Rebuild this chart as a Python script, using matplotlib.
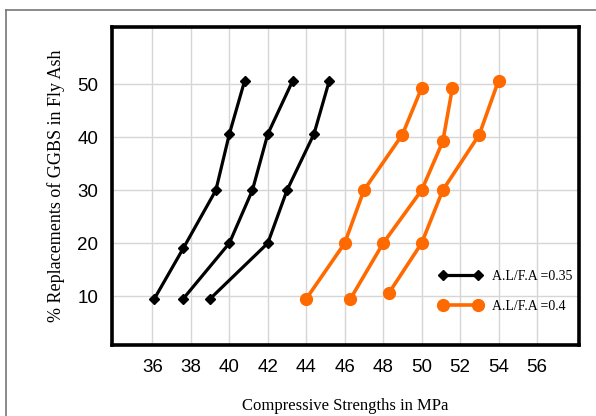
import matplotlib
matplotlib.use("Agg")
import matplotlib.pyplot as plt
from matplotlib.lines import Line2D

# replacement levels (%)
ggbs_black = [
    [9.5, 19.0, 30.0, 40.6, 50.7],
    [9.5, 20.0, 30.0, 40.6, 50.7],
    [9.5, 20.0, 30.0, 40.6, 50.7],
]
strength_black = [
    [36.1, 37.6, 39.3, 40.0, 40.8],
    [37.6, 40.0, 41.2, 42.0, 43.3],
    [39.0, 42.0, 43.0, 44.4, 45.2],
]
ggbs_orange = [
    [9.5, 20.0, 30.0, 40.5, 49.3],
    [9.5, 20.0, 30.0, 39.2, 49.3],
    [10.6, 20.0, 30.0, 40.5, 50.7],
]
strength_orange = [
    [44.0, 46.0, 47.0, 49.0, 50.0],
    [46.3, 48.0, 50.0, 51.1, 51.6],
    [48.3, 50.0, 51.1, 53.0, 54.0],
]
labels = ["A.L/F.A =0.35", "A.L/F.A =0.4"]
xticks = [36, 38, 40, 42, 44, 46, 48, 50, 52, 54, 56]
yticks = [10, 20, 30, 40, 50]

BLACK = "#000000"
ORANGE = "#ff6a00"

fig = plt.figure(figsize=(5.96, 4.16), dpi=100)
ax = fig.add_axes([0.188, 0.171, 0.784, 0.764])

# outer frame of the scanned figure (left and top edges)
fig.add_artist(Line2D([6 / 596, 6 / 596], [0, 1 - 10 / 416], color="#777777", lw=1.2))
fig.add_artist(Line2D([6 / 596, 1], [1 - 10 / 416, 1 - 10 / 416], color="#777777", lw=1.2))

for i, (x, y) in enumerate(zip(strength_black, ggbs_black)):
    ax.plot(x, y, color=BLACK, lw=2.3, marker="D", ms=5.5, zorder=3,
            label=labels[0] if i == 0 else None)
for i, (x, y) in enumerate(zip(strength_orange, ggbs_orange)):
    ax.plot(x, y, color=ORANGE, lw=2.6, marker="o", ms=8.5, zorder=3,
            label=labels[1] if i == 0 else None)

ax.set_xlim(33.9, 58.2)
ax.set_ylim(0.8, 60.8)
ax.set_xticks(xticks)
ax.set_yticks(yticks)
ax.grid(True, color="#d6d6d6", lw=1.0)
ax.set_axisbelow(True)
ax.tick_params(length=0, labelsize=13.5, pad=10)
for lab in ax.get_xticklabels() + ax.get_yticklabels():
    lab.set_fontfamily("Liberation Sans")
for s in ax.spines.values():
    s.set_linewidth(2.6)
    s.set_color("black")

ax.set_ylabel("% Replacements of GGBS in Fly Ash", family="Liberation Serif",
              fontsize=13, labelpad=9)
ax.set_xlabel("Compressive Strengths in MPa", family="Liberation Serif",
              fontsize=12, labelpad=16)

leg = ax.legend(loc="lower right", bbox_to_anchor=(1.012, 0.06), frameon=False,
                numpoints=2, handlelength=3.1, handletextpad=0.7, labelspacing=1.25,
                prop={"family": "Liberation Serif", "size": 10})

fig.savefig("out.png", dpi=100)
